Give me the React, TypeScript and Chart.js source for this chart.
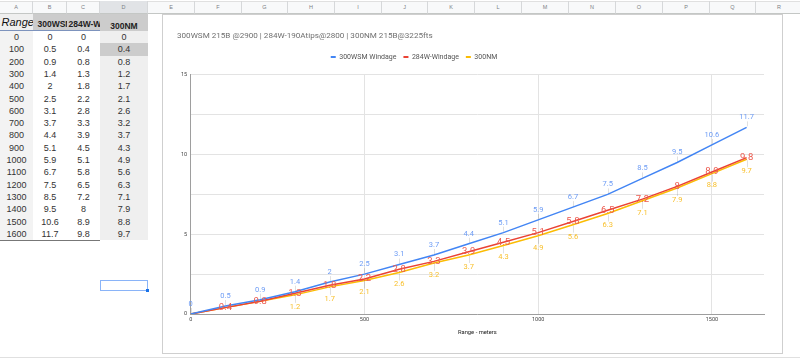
import React, { useEffect, useRef } from "react";
import { Chart, registerables } from "chart.js";

Chart.register(...registerables);

// ---------- data ----------
const ranges = [0, 100, 200, 300, 400, 500, 600, 700, 800, 900, 1000, 1100, 1200, 1300, 1400, 1500, 1600];
const wsm300 = [0, 0.5, 0.9, 1.4, 2, 2.5, 3.1, 3.7, 4.4, 5.1, 5.9, 6.7, 7.5, 8.5, 9.5, 10.6, 11.7];
const w284 = [0, 0.4, 0.8, 1.3, 1.8, 2.2, 2.8, 3.3, 3.9, 4.5, 5.1, 5.8, 6.5, 7.2, 8, 8.9, 9.8];
const nm300 = [0, 0.4, 0.8, 1.2, 1.7, 2.1, 2.6, 3.2, 3.7, 4.3, 4.9, 5.6, 6.3, 7.1, 7.9, 8.8, 9.7];
const seriesNames = ["300WSM Windage", "284W-Windage", "300NM"];
const headerCells = ["Range", "300WSM Windage", "284W-Windage", "300NM"];
const xTicks = [0, 500, 1000, 1500];
const yTicks = [0, 2.5, 5, 7.5, 10, 12.5, 15];
const colLetters = ["A", "B", "C", "D", "E", "F", "G", "H", "I", "J", "K", "L", "M", "N", "O", "P", "Q", "R"];
const chartTitle = "300WSM 215B @2900 | 284W-190Atips@2800 | 300NM 215B@3225fts";
const xAxisTitle = "Range - meters";

// ---------- styles ----------
const lineColors = ["#4285f4", "#ea4335", "#fbbc04"];
const labelColors = ["#6d9cf5", "#ec5a4e", "#f8bf2a"];
const labelSizes = [7.5, 9.5, 7.5];
const labelOffsets = [-10, 0, 12];
const labelFirstIndex = [0, 1, 3];
const colEdges = [0, 33, 67, 100, 148, 195, 242, 288, 335, 382, 428, 475, 522, 569, 616, 663, 710, 756, 803];
const ROW_TOP = 31;
const ROW_H = 12.3;
const CHART_FONT = "Roboto, 'Liberation Sans', Arial, sans-serif";
const SHEET_FONT = "'Liberation Sans', Arial, sans-serif";

const seriesValues = [wsm300, w284, nm300];

const dataLabelPlugin = {
  id: "dataLabels",
  afterDatasetsDraw(chart: any) {
    const ctx = chart.ctx;
    ctx.save();
    chart.data.datasets.forEach((ds: any, di: number) => {
      const meta = chart.getDatasetMeta(di);
      meta.data.forEach((pt: any, j: number) => {
        if (j < labelFirstIndex[di]) return;
        const v = seriesValues[di][j];
        const dy = labelOffsets[di];
        const x = pt.x;
        const y = pt.y;
        if (dy !== 0) {
          ctx.strokeStyle = "rgba(0,0,0,0.12)";
          ctx.lineWidth = 1;
          ctx.beginPath();
          if (dy < 0) {
            ctx.moveTo(Math.round(x) + 0.5, y - 1);
            ctx.lineTo(Math.round(x) + 0.5, y + dy + 4);
          } else {
            ctx.moveTo(Math.round(x) + 0.5, y + 1);
            ctx.lineTo(Math.round(x) + 0.5, y + dy - 4);
          }
          ctx.stroke();
        }
        ctx.fillStyle = labelColors[di];
        ctx.font = `${labelSizes[di]}px ${CHART_FONT}`;
        ctx.textAlign = "center";
        ctx.textBaseline = "middle";
        ctx.fillText(String(v), x, y + dy);
      });
    });
    ctx.restore();
  },
};

const legendPlugin = {
  id: "customLegend",
  afterDraw(chart: any) {
    const ctx = chart.ctx;
    ctx.save();
    ctx.font = `7px ${CHART_FONT}`;
    const markW = 5;
    const gap = 3.5;
    const spacing = 7;
    const names = chart.data.datasets.map((d: any) => d.label);
    const widths = names.map((n: string) => ctx.measureText(n).width);
    const total = widths.reduce((a: number, w: number) => a + markW + gap + w, 0) + spacing * (names.length - 1);
    let x = 251 - total / 2;
    const y = 42;
    names.forEach((n: string, i: number) => {
      ctx.fillStyle = lineColors[i];
      ctx.fillRect(x, y - 1, markW, 2);
      x += markW + gap;
      ctx.fillStyle = "#555";
      ctx.textAlign = "left";
      ctx.textBaseline = "middle";
      ctx.fillText(n, x, y);
      x += widths[i] + spacing;
    });
    ctx.restore();
  },
};

function ChartBox() {
  const ref = useRef<HTMLCanvasElement | null>(null);
  useEffect(() => {
    if (!ref.current) return;
    const data = [wsm300, w284, nm300];
    const chart = new Chart(ref.current, {
      type: "line",
      data: {
        datasets: data.map((vals, i) => ({
          label: seriesNames[i],
          data: ranges.map((r, j) => ({ x: r, y: vals[j] })),
          borderColor: lineColors[i],
          backgroundColor: lineColors[i],
          borderWidth: 1.5,
          pointRadius: 0,
          tension: 0,
        })),
      },
      options: {
        animation: false,
        responsive: false,
        maintainAspectRatio: false,
        layout: { padding: { left: 14, right: 17, top: 0, bottom: 0 } },
        plugins: {
          legend: { display: false },
          tooltip: { enabled: false },
          title: {
            display: true,
            text: chartTitle,
            align: "start",
            color: "#6f6f6f",
            font: { family: CHART_FONT, size: 8.1, weight: "normal" },
            padding: { top: 16.2, bottom: 33.8 },
          },
        },
        scales: {
          x: {
            type: "linear",
            min: 0,
            max: 1650,
            afterBuildTicks: (s: any) => {
              s.ticks = xTicks.map((v) => ({ value: v }));
            },
            grid: { color: "#e3e3e3", drawTicks: false },
            border: { color: "#9e9e9e", width: 1 },
            ticks: {
              padding: 2,
              font: { family: CHART_FONT, size: 5.5 },
              color: "#444",
              maxRotation: 0,
              callback: (v: any) => String(v),
            },
            title: {
              display: true,
              text: xAxisTitle,
              color: "#222",
              font: { family: CHART_FONT, size: 5.8 },
              padding: { top: 0, bottom: 15.5 },
            },
            afterFit: (s: any) => {
              s.height = 38;
            },
          },
          y: {
            type: "linear",
            min: 0,
            max: 15,
            afterBuildTicks: (s: any) => {
              s.ticks = yTicks.map((v) => ({ value: v }));
            },
            grid: { color: "#e3e3e3", drawTicks: false },
            border: { color: "#9e9e9e", width: 1 },
            ticks: {
              padding: 3.5,
              font: { family: CHART_FONT, size: 5.5 },
              color: "#444",
              callback: (v: any) => (Number(v) % 5 === 0 ? String(v) : ""),
            },
            afterFit: (s: any) => {
              s.width = 13.7;
            },
          },
        },
      },
      plugins: [dataLabelPlugin, legendPlugin],
    } as any);
    return () => chart.destroy();
  }, []);
  return (
    <canvas
      ref={ref}
      width={618}
      height={337}
      style={{ position: "absolute", left: 163, top: 15, width: 618, height: 337 }}
    />
  );
}

function cellStyle(left: number, right: number, top: number, h: number, extra: any = {}) {
  return {
    position: "absolute" as const,
    left,
    top,
    width: right - left,
    height: h,
    overflow: "hidden",
    whiteSpace: "nowrap" as const,
    boxSizing: "border-box" as const,
    ...extra,
  };
}

export default function App() {
  const rowsData = ranges.map((r, i) => [r, wsm300[i], w284[i], nm300[i]]);
  return (
    <div
      style={{
        position: "fixed",
        left: 0,
        top: 0,
        width: 800,
        height: 359,
        background: "#fff",
        overflow: "hidden",
        fontFamily: SHEET_FONT,
      }}
    >
      {/* column header row */}
      <div style={{ position: "absolute", left: 0, top: 1, width: 800, height: 13, background: "#f8f9fa", borderTop: "1px solid #e0e0e0", borderBottom: "1px solid #c4c7c5", boxSizing: "border-box" }} />
      {colLetters.map((c, i) => (
        <div
          key={c}
          style={cellStyle(colEdges[i], colEdges[i + 1], 1, 13, {
            borderRight: "1px solid #d6d8da",
            borderBottom: "1px solid #c4c7c5",
            background: c === "D" ? "#e1e3e6" : "transparent",
            color: "#7d8185",
            fontSize: 5.5,
            lineHeight: "12px",
            textAlign: "center",
          })}
        >
          {c}
        </div>
      ))}

      {/* header cells */}
      <div style={cellStyle(0, 33, 14, 17, { background: "#efefef", fontStyle: "italic", fontSize: 11, lineHeight: "16px", paddingLeft: 1.5, color: "#111" })}>
        {headerCells[0]}
      </div>
      <div style={cellStyle(33, 67, 14, 17, { background: "#cccccc", fontWeight: "bold", fontSize: 8.5, lineHeight: "20px", paddingLeft: 4.5, color: "#222" })}>
        {headerCells[1]}
      </div>
      <div style={cellStyle(67, 100, 14, 17, { background: "#cccccc", fontWeight: "bold", fontSize: 8.5, lineHeight: "20px", paddingLeft: 1.5, color: "#222" })}>
        {headerCells[2]}
      </div>
      <div style={cellStyle(100, 148, 14, 17, { background: "#cccccc", fontWeight: "bold", fontSize: 8.5, lineHeight: "24px", textAlign: "center", color: "#222" })}>
        {headerCells[3]}
      </div>
      <div style={{ position: "absolute", left: 0, top: 30, width: 100, height: 1, background: "#7d93bd" }} />

      {/* data rows */}
      {rowsData.map((row, i) => {
        const top = ROW_TOP + i * ROW_H;
        return (
          <React.Fragment key={i}>
            {row.map((v, c) => {
              let bg = "#ffffff";
              if (c === 0) bg = "#f3f3f3";
              if (c === 3) bg = i === 1 ? "#cccccc" : "#efefef";
              return (
                <div
                  key={c}
                  style={cellStyle(colEdges[c], colEdges[c + 1], top, ROW_H + 0.4, {
                    background: bg,
                    fontSize: 9,
                    lineHeight: `${ROW_H}px`,
                    textAlign: "center",
                    color: "#333",
                  })}
                >
                  {String(v)}
                </div>
              );
            })}
          </React.Fragment>
        );
      })}
      <div style={{ position: "absolute", left: 0, top: ROW_TOP + 17 * ROW_H - 0.5, width: 100, height: 1.5, background: "#777" }} />

      {/* selected cell */}
      <div style={{ position: "absolute", left: 100, top: 280, width: 48, height: 11, border: "1px solid #8ab4f8", boxSizing: "border-box" }} />
      <div style={{ position: "absolute", left: 146, top: 289, width: 3, height: 3, background: "#1a73e8" }} />

      {/* bottom edge */}
      <div style={{ position: "absolute", left: 0, top: 357, width: 800, height: 1, background: "#e0e0e0" }} />

      {/* chart container */}
      <div style={{ position: "absolute", left: 162, top: 14, width: 621, height: 340, border: "1px solid #cfcfcf", boxSizing: "border-box", background: "#fff" }} />
      <ChartBox />
    </div>
  );
}
